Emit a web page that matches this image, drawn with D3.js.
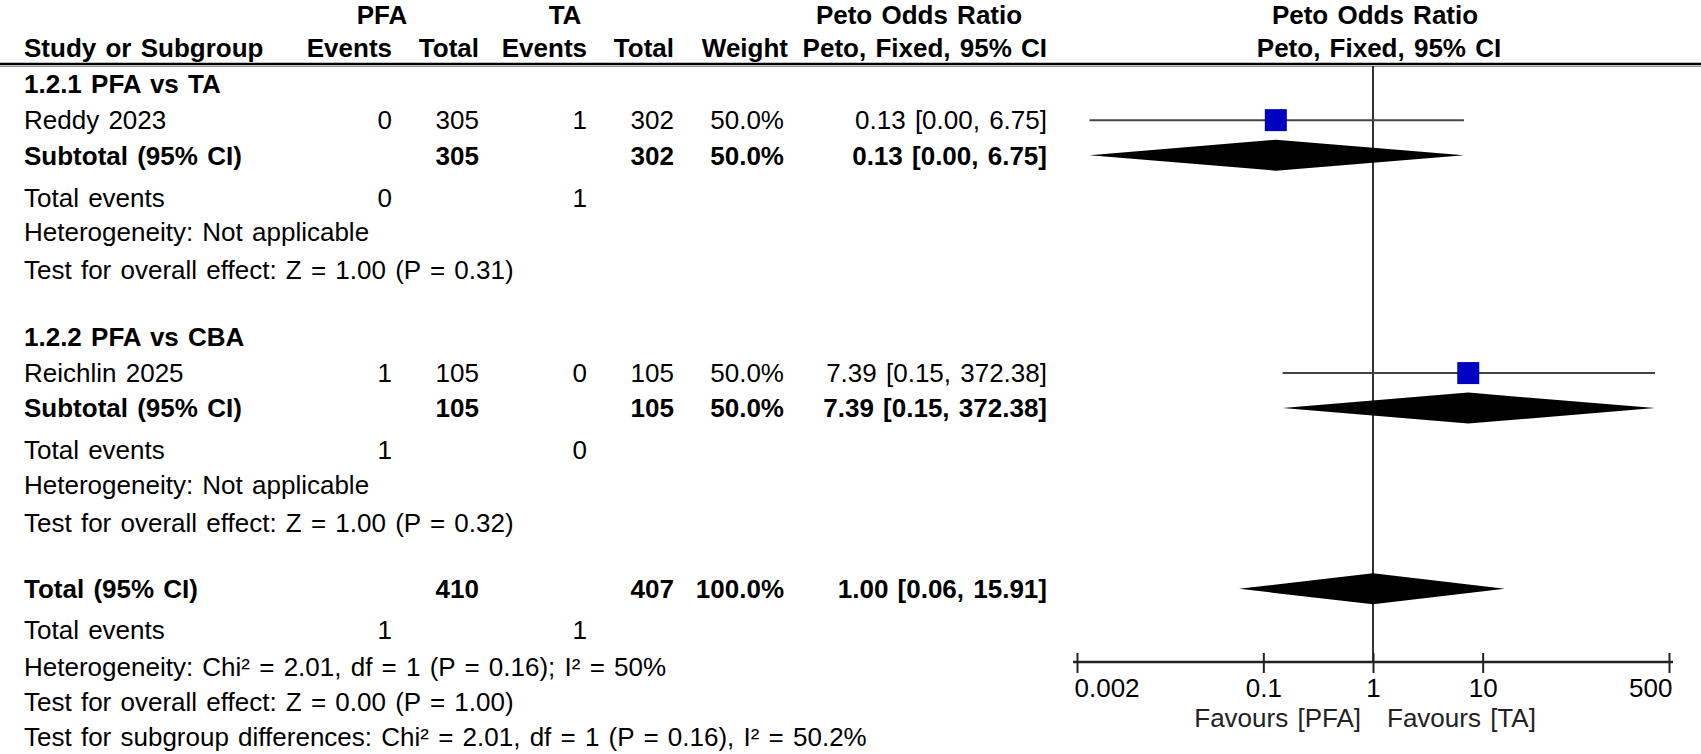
<!DOCTYPE html>
<html>
<head>
<meta charset="utf-8">
<script src="https://cdn.jsdelivr.net/npm/d3@7"></script>
<style>
  body { margin: 0; background: #fff; }
  text { font-family: "Liberation Sans", Arial, sans-serif; font-size: 26px; word-spacing: 2px; fill: #000; }
  .b { font-weight: bold; }
</style>
</head>
<body>
<div id="wrapper"></div>
<script>
'use strict';

//#region DATASET
const groupLabels = ['1.2.1 PFA vs TA', '1.2.2 PFA vs CBA'];
const studies = ['Reddy 2023', 'Reichlin 2025'];
const pfaEvents = [0, 1];
const pfaTotals = [305, 105];
const taEvents = [1, 0];
const taTotals = [302, 105];
const weights = [50.0, 50.0];
const oddsRatios = [0.13, 7.39];
const ciLower = [0.0026, 0.15]; // shown as 0.00 in the table
const ciUpper = [6.75, 372.38];
const groupHeterogeneity = ['Heterogeneity: Not applicable', 'Heterogeneity: Not applicable'];
const groupOverallTest = ['Test for overall effect: Z = 1.00 (P = 0.31)', 'Test for overall effect: Z = 1.00 (P = 0.32)'];

const totalEvents = [1, 1]; // PFA, TA
const totalTotals = [410, 407];
const totalWeight = 100.0;
const totalOR = [1.00, 0.06, 15.91]; // estimate, lower, upper
const totalNotes = [
  'Heterogeneity: Chi² = 2.01, df = 1 (P = 0.16); I² = 50%',
  'Test for overall effect: Z = 0.00 (P = 1.00)',
  'Test for subgroup differences: Chi² = 2.01, df = 1 (P = 0.16), I² = 50.2%'
];
const axisTicks = [0.002, 0.1, 1, 10, 500];
const favourLabels = ['Favours [PFA]', 'Favours [TA]'];
//#endregion DATASET

function drawForest () {
  //#region DIMENSIONS
  const dimensions = { width: 1701, height: 754 };
  const col = { study: 24, pfaEv: 392, pfaTot: 479, taEv: 587, taTot: 674, weight: 784, ci: 1047 };
  const rowY = d3.scaleLinear().domain([0, 20]).range([11, 741]);
  const xScale = d3.scaleLog().domain([0.002, 500]).range([1077, 1669]);
  const axisY = 662;
  const sizeScale = d3.scaleSqrt().domain([0, 50]).range([0, 22]);
  const diamondHalf = 15.5;
  const groupStart = [2, 8.93];
  const groupOffsets = [0, 0.99, 1.95, 3.1, 4.05, 5.08];
  const totalStart = 15.83;
  const fmtCI = (m, l, u) => `${m.toFixed(2)} [${l.toFixed(2)}, ${u.toFixed(2)}]`;
  //#endregion

  const svg = d3.select('#wrapper').append('svg')
    .attr('width', dimensions.width)
    .attr('height', dimensions.height);

  const txtAt = (x, y, s, anchor, bold) => svg.append('text')
    .attr('x', x)
    .attr('y', y)
    .attr('dy', '0.36em')
    .attr('text-anchor', anchor || 'start')
    .attr('class', bold ? 'b' : null)
    .text(s);
  const txt = (x, slot, s, anchor, bold) => txtAt(x, rowY(slot), s, anchor, bold);

  //#region HEADER
  const topY = 14.5;
  txtAt(382, topY, 'PFA', 'middle', true);
  txtAt(565, topY, 'TA', 'middle', true);
  txtAt(919, topY, 'Peto Odds Ratio', 'middle', true);
  txtAt(xScale(1) + 2, topY, 'Peto Odds Ratio', 'middle', true);
  txt(col.study, 1, 'Study or Subgroup', 'start', true);
  txt(col.pfaEv, 1, 'Events', 'end', true);
  txt(col.pfaTot, 1, 'Total', 'end', true);
  txt(col.taEv, 1, 'Events', 'end', true);
  txt(col.taTot, 1, 'Total', 'end', true);
  txt(788, 1, 'Weight', 'end', true);
  txt(col.ci, 1, 'Peto, Fixed, 95% CI', 'end', true);
  txt(xScale(1) + 6, 1, 'Peto, Fixed, 95% CI', 'middle', true);

  svg.append('line')
    .attr('x1', 0).attr('x2', dimensions.width)
    .attr('y1', 64).attr('y2', 64)
    .attr('stroke', '#000').attr('stroke-width', 2.5);
  svg.append('line')
    .attr('x1', 0).attr('x2', dimensions.width)
    .attr('y1', 66.5).attr('y2', 66.5)
    .attr('stroke', '#999').attr('stroke-width', 1);
  //#endregion

  //#region REFERENCE LINE + AXIS
  svg.append('line')
    .attr('x1', xScale(1)).attr('x2', xScale(1))
    .attr('y1', 66).attr('y2', axisY)
    .attr('stroke', '#333').attr('stroke-width', 2);

  const axisGenerator = d3.axisBottom(xScale)
    .tickValues(axisTicks)
    .tickFormat(d => d)
    .tickSize(11)
    .tickPadding(6)
    .tickSizeOuter(0);

  const xAxis = svg.append('g')
    .attr('transform', `translate(0, ${axisY})`)
    .call(axisGenerator)
    .attr('font-size', null)
    .attr('font-family', null);
  xAxis.select('.domain')
    .attr('stroke', '#222').attr('stroke-width', 2.4)
    .attr('d', `M${xScale.range()[0] - 4},0H${xScale.range()[1] + 4}`);
  xAxis.selectAll('.tick line')
    .attr('y1', -9).attr('y2', 11)
    .attr('stroke', '#222').attr('stroke-width', 2);
  // end labels sit inside the axis span
  xAxis.selectAll('.tick text')
    .attr('fill', '#000')
    .attr('x', (d, i) => i === 0 ? -3 : i === axisTicks.length - 1 ? 3 : 0)
    .attr('text-anchor', (d, i) => i === 0 ? 'start' : i === axisTicks.length - 1 ? 'end' : 'middle');

  svg.append('text')
    .attr('x', xScale(1) - 12).attr('y', 718).attr('dy', '0.36em')
    .attr('text-anchor', 'end').style('fill', '#222')
    .text(favourLabels[0]);
  svg.append('text')
    .attr('x', xScale(1) + 14).attr('y', 718).attr('dy', '0.36em')
    .style('fill', '#222')
    .text(favourLabels[1]);
  //#endregion

  const diamond = (slot, m, l, u) => {
    const y = rowY(slot);
    svg.append('polygon')
      .attr('points', [[xScale(l), y], [xScale(m), y - diamondHalf], [xScale(u), y], [xScale(m), y + diamondHalf]].join(' '))
      .attr('fill', '#000');
  };

  //#region SUBGROUPS
  groupLabels.forEach((g, i) => {
    const [head, study, sub, tev, het, test] = groupOffsets.map(o => groupStart[i] + o);
    txt(col.study, head, g, 'start', true);

    // study row
    txt(col.study, study, studies[i]);
    txt(col.pfaEv, study, pfaEvents[i], 'end');
    txt(col.pfaTot, study, pfaTotals[i], 'end');
    txt(col.taEv, study, taEvents[i], 'end');
    txt(col.taTot, study, taTotals[i], 'end');
    txt(col.weight, study, weights[i].toFixed(1) + '%', 'end');
    txt(col.ci, study, fmtCI(oddsRatios[i], ciLower[i], ciUpper[i]), 'end');

    const y = rowY(study);
    svg.append('line')
      .attr('x1', xScale(ciLower[i])).attr('x2', xScale(ciUpper[i]))
      .attr('y1', y).attr('y2', y)
      .attr('stroke', '#444').attr('stroke-width', 2);
    const sz = sizeScale(weights[i]);
    svg.append('rect')
      .attr('x', xScale(oddsRatios[i]) - sz / 2)
      .attr('y', y - sz / 2)
      .attr('width', sz).attr('height', sz)
      .attr('fill', '#0000c0');

    // subtotal row
    txt(col.study, sub, 'Subtotal (95% CI)', 'start', true);
    txt(col.pfaTot, sub, pfaTotals[i], 'end', true);
    txt(col.taTot, sub, taTotals[i], 'end', true);
    txt(col.weight, sub, weights[i].toFixed(1) + '%', 'end', true);
    txt(col.ci, sub, fmtCI(oddsRatios[i], ciLower[i], ciUpper[i]), 'end', true);
    diamond(sub, oddsRatios[i], ciLower[i], ciUpper[i]);

    txt(col.study, tev, 'Total events');
    txt(col.pfaEv, tev, pfaEvents[i], 'end');
    txt(col.taEv, tev, taEvents[i], 'end');
    txt(col.study, het, groupHeterogeneity[i]);
    txt(col.study, test, groupOverallTest[i]);
  });
  //#endregion

  //#region OVERALL
  txt(col.study, totalStart, 'Total (95% CI)', 'start', true);
  txt(col.pfaTot, totalStart, totalTotals[0], 'end', true);
  txt(col.taTot, totalStart, totalTotals[1], 'end', true);
  txt(col.weight, totalStart, totalWeight.toFixed(1) + '%', 'end', true);
  txt(col.ci, totalStart, fmtCI(totalOR[0], totalOR[1], totalOR[2]), 'end', true);
  diamond(totalStart, totalOR[0], totalOR[1], totalOR[2]);

  txt(col.study, totalStart + 1.12, 'Total events');
  txt(col.pfaEv, totalStart + 1.12, totalEvents[0], 'end');
  txt(col.taEv, totalStart + 1.12, totalEvents[1], 'end');
  totalNotes.forEach((n, i) => txt(col.study, totalStart + 2.12 + i * 0.97, n));
  //#endregion
}

drawForest();
</script>
</body>
</html>
